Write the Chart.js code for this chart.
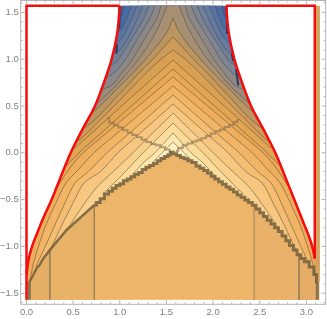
<!DOCTYPE html>
<html>
<head>
<meta charset="utf-8">
<style>html,body{margin:0;padding:0;background:#fff}canvas{display:block}</style>
<script src="https://cdn.jsdelivr.net/npm/chart.js@4/dist/chart.umd.min.js"></script>
</head>
<body>
<canvas id="c" width="327" height="319"></canvas>
<script>
const FIELD_TOP = 1.571, FIELD_BOTTOM = -1.571;

// red outline of the domain, left and right of the gap
const redLeftX = [0, 0, 0.02, 0.06, 0.11, 0.17, 0.27, 0.37, 0.474, 0.6, 0.734, 0.83, 0.913, 0.973, 1.0];
const redLeftY = [-1.571, -1.3, -1.15, -1.0, -0.87, -0.72, -0.5, -0.25, 0, 0.25, 0.5, 0.75, 1.0, 1.28, 1.571];
const redRightX = [2.14, 2.168, 2.228, 2.31, 2.407, 2.54, 2.667, 2.77, 2.87, 2.97, 3.03, 3.07, 3.09];
const redRightY = [1.571, 1.28, 1.0, 0.75, 0.5, 0.25, 0, -0.25, -0.5, -0.75, -0.9, -1.03, -1.13];

// contour arms, outermost first: y values top to bottom, x on the left and right arm
const armY = [
  [1.571, 1.472, 1.44],
  [1.571, 1.44, 1.333, 1.291],
  [1.571, 1.419, 1.259, 1.184, 1.162],
  [1.571, 1.419, 1.248, 1.098, 1.056],
  [1.571, 1.44, 1.291, 1.141, 0.991, 0.927],
  [1.571, 1.44, 1.312, 1.152, 0.991, 0.863, 0.799],
  [1.571, 1.44, 1.312, 1.152, 0.991, 0.853, 0.724, 0.671],
  [1.571, 1.462, 1.333, 1.162, 0.991, 0.863, 0.714, 0.596, 0.521],
  [1.44, 1.312, 1.184, 0.991, 0.853, 0.714, 0.564, 0.415],
  [1.237, 1.098, 0.991, 0.853, 0.692, 0.532, 0.372, 0.265],
  [1.098, 0.991, 0.84, 0.675, 0.52, 0.36, 0.2, 0.126],
  [0.991, 0.866, 0.722, 0.531, 0.368, 0.195, 0.051],
  [0.895, 0.771, 0.647, 0.504, 0.352, 0.2, 0.009, -0.141],
  [0.81, 0.693, 0.513, 0.369, 0.206, 0, -0.162, -0.355],
  [0.714, 0.596, 0.479, 0.325, 0.162, 0, -0.184, -0.323, -0.558, -0.771, -0.985, -1.199, -1.38],
  [0.618, 0.496, 0.355, 0.168, 0, -0.205, -0.323, -0.558, -0.771, -0.985, -1.167, -1.22],
  [0.521, 0.397, 0.255, 0.133, 0, -0.205, -0.323, -0.558, -0.771, -0.932, -1.038],
  [0.425, 0.287, 0.13, 0, -0.184, -0.365, -0.611, -0.825],
  [0.318, 0.18, 0, -0.205, -0.44],
  [0.212, 0, -0.109, -0.269],
  [0.115, 0, -0.109],
];
const armLeftX = [
  [1.045, 1.024, 1.002],
  [1.12, 1.077, 1.024, 0.981],
  [1.184, 1.12, 1.045, 0.981, 0.959],
  [1.249, 1.184, 1.099, 1.002, 0.927],
  [1.313, 1.259, 1.174, 1.077, 0.981, 0.895],
  [1.377, 1.324, 1.249, 1.152, 1.056, 0.949, 0.852],
  [1.442, 1.399, 1.324, 1.227, 1.131, 1.024, 0.916, 0.798],
  [1.506, 1.463, 1.409, 1.313, 1.195, 1.088, 0.959, 0.831, 0.745],
  [1.571, 1.517, 1.431, 1.27, 1.141, 1.002, 0.852, 0.691],
  [1.571, 1.442, 1.345, 1.206, 1.056, 0.906, 0.756, 0.627],
  [1.571, 1.431, 1.27, 1.109, 0.959, 0.798, 0.638, 0.552],
  [1.571, 1.431, 1.27, 1.056, 0.874, 0.681, 0.52],
  [1.571, 1.431, 1.292, 1.131, 0.959, 0.788, 0.573, 0.423],
  [1.571, 1.431, 1.217, 1.045, 0.852, 0.606, 0.466, 0.338],
  [1.571, 1.431, 1.292, 1.109, 0.916, 0.723, 0.552, 0.423, 0.305, 0.209, 0.134, 0.07, 0.038],
  [1.571, 1.431, 1.27, 1.056, 0.863, 0.659, 0.52, 0.402, 0.305, 0.209, 0.123, 0.1],
  [1.571, 1.431, 1.27, 1.131, 0.981, 0.788, 0.616, 0.488, 0.38, 0.305, 0.252],
  [1.571, 1.431, 1.27, 1.141, 0.949, 0.756, 0.573, 0.434],
  [1.571, 1.431, 1.249, 1.056, 0.82],
  [1.571, 1.377, 1.249, 1.109],
  [1.571, 1.452, 1.345],
];
const armRightX = [
  [2.097, 2.118, 2.14],
  [2.022, 2.065, 2.118, 2.161],
  [1.958, 2.022, 2.097, 2.161, 2.183],
  [1.893, 1.958, 2.043, 2.14, 2.215],
  [1.829, 1.883, 1.968, 2.065, 2.161, 2.247],
  [1.765, 1.818, 1.893, 1.99, 2.086, 2.193, 2.29],
  [1.7, 1.743, 1.818, 1.915, 2.011, 2.118, 2.226, 2.344],
  [1.636, 1.679, 1.733, 1.829, 1.947, 2.054, 2.183, 2.311, 2.397],
  [1.571, 1.625, 1.711, 1.872, 2.001, 2.14, 2.29, 2.451],
  [1.571, 1.7, 1.797, 1.936, 2.086, 2.236, 2.386, 2.515],
  [1.571, 1.711, 1.872, 2.033, 2.183, 2.344, 2.504, 2.59],
  [1.571, 1.711, 1.872, 2.086, 2.268, 2.461, 2.622],
  [1.571, 1.711, 1.85, 2.011, 2.183, 2.354, 2.569, 2.719],
  [1.571, 1.711, 1.925, 2.097, 2.29, 2.536, 2.676, 2.804],
  [1.571, 1.711, 1.85, 2.033, 2.226, 2.419, 2.59, 2.719, 2.837, 2.933, 3.008, 3.072, 3.104],
  [1.571, 1.711, 1.872, 2.086, 2.279, 2.483, 2.622, 2.74, 2.837, 2.933, 3.019, 3.042],
  [1.571, 1.711, 1.872, 2.011, 2.161, 2.354, 2.526, 2.654, 2.762, 2.837, 2.89],
  [1.571, 1.711, 1.872, 2.001, 2.193, 2.386, 2.569, 2.708],
  [1.571, 1.711, 1.893, 2.086, 2.322],
  [1.571, 1.765, 1.893, 2.033],
  [1.571, 1.69, 1.797],
];
// the first arms run into the red curve, the rest stop on the lower ridge
const armsEndingOnRed = 14;
// first colour is the band next to the red outline, then one per contour going in
const bandColours = ['#3d62a4', '#4a6ca6', '#5874a2', '#647a9f', '#6f7f9b', '#7d8493', '#8b8887', '#998c7c',
  '#a68f72', '#bb955f', '#cc9b58', '#d9a054', '#e2a553', '#e9a856', '#eeae5e', '#f2b566',
  '#f5bd71', '#f8c77f', '#fad18c', '#fcdc9b', '#fee7ad', '#fff1c2'];

// lower ridge
const arcX = [0.03, 0.06, 0.11, 0.14, 0.18, 0.25, 0.43, 0.58, 0.727, 0.77, 0.81, 0.86, 0.9, 0.94, 0.98, 1.02, 1.06, 1.1, 1.14, 1.18, 1.22, 1.26, 1.3, 1.34, 1.38, 1.42, 1.46, 1.5, 1.53, 1.557,
  1.59, 1.63, 1.67, 1.71, 1.75, 1.795, 1.84, 1.88, 1.92, 1.96, 2.0, 2.04, 2.08, 2.12, 2.16, 2.2, 2.24, 2.28, 2.32, 2.36, 2.4, 2.44,
  2.48, 2.52, 2.56, 2.6, 2.64, 2.68, 2.72, 2.76, 2.8, 2.84, 2.88, 2.92, 2.96, 3.0, 3.06, 3.1, 3.117];
const arcY = [-1.38, -1.33, -1.23, -1.2, -1.13, -1.04, -0.825, -0.69, -0.558, -0.53, -0.49, -0.44, -0.41, -0.38, -0.35, -0.33, -0.3, -0.28, -0.255, -0.23, -0.21, -0.18, -0.155, -0.135, -0.115, -0.085, -0.06, -0.04, -0.02, 0.005,
  -0.01, -0.03, -0.05, -0.065, -0.085, -0.105, -0.14, -0.165, -0.19, -0.215, -0.25, -0.28, -0.31, -0.335, -0.365, -0.39, -0.42, -0.45, -0.475, -0.505, -0.53, -0.56,
  -0.6, -0.64, -0.68, -0.72, -0.76, -0.8, -0.84, -0.89, -0.94, -0.99, -1.04, -1.09, -1.13, -1.165, -1.22, -1.3, -1.38];
// upper ridge branches
const kinkLeftX = [0.86, 0.913, 0.96, 1.01, 1.06, 1.11, 1.16, 1.21, 1.26, 1.31, 1.36, 1.41, 1.46, 1.51, 1.557];
const kinkLeftY = [0.37, 0.32, 0.295, 0.27, 0.24, 0.215, 0.19, 0.165, 0.14, 0.115, 0.095, 0.08, 0.06, 0.035, 0.01];
const kinkRightX = [1.6, 1.65, 1.7, 1.75, 1.8, 1.85, 1.9, 1.95, 2.0, 2.05, 2.1, 2.15, 2.2, 2.24, 2.277];
const kinkRightY = [0.02, 0.05, 0.08, 0.1, 0.12, 0.135, 0.155, 0.18, 0.205, 0.23, 0.25, 0.275, 0.3, 0.325, 0.35];
// dark pieces just inside the red curve near the top
const edgeX = [1.0, 0.995, null, 0.97, 0.965, null, 2.145, 2.15, null, 2.2, 2.215, null, 2.245, 2.27];
const edgeY = [1.56, 1.33, null, 1.16, 1.06, null, 1.56, 1.27, null, 1.06, 0.98, null, 0.9, 0.72];
// flat area under the ridge and the vertical lines in it
const flatFromX = [0, 0, 0, 2.44, 2.92];
const flatToX = [3.14, 0.727, 0.25, 3.14, 3.14];
const flatColours = ['#edb569', '#e9b269', '#e5ae66', '#e9b16a', '#e4ac67'];
const stemX = [0.03, 0.25, 0.727, 2.44, 2.92, 3.117];
const stemTop = [-1.38, -1.04, -0.558, -0.56, -1.09, -1.38];
const stemWidth = [3, 1, 1, 2, 1, 3];
const stemColour = ['#8a744f', '#9c8155', '#9c8155', '#c29c60', '#9c8155', '#8a744f'];
const stripX = [3.118, 3.118];
const stripY = [FIELD_TOP, -1.38];

const toPts = (xs, ys) => xs.map((x, i) => ({ x: x, y: ys[i] }));
const redLeftPts = toPts(redLeftX, redLeftY);
const redRightPts = toPts(redRightX, redRightY);
const arcPts = toPts(arcX, arcY);

function fillSet(pts, colour) {
  return { data: pts, showLine: true, pointRadius: 0, borderWidth: 0, borderColor: 'transparent',
    backgroundColor: colour, fill: { value: FIELD_BOTTOM }, tension: 0 };
}
function lineSet(pts, colour, width, extra) {
  return Object.assign({ data: pts, showLine: true, pointRadius: 0, borderWidth: width, borderColor: colour,
    fill: false, tension: 0 }, extra || {});
}

const layers = [];
// bands, painted from the outside in
layers.push(fillSet(redLeftPts.concat(redRightPts), bandColours[0]));
armY.forEach((ys, i) => {
  const left = toPts(armLeftX[i], ys).reverse();
  const right = toPts(armRightX[i], ys);
  let pts = left.concat(right);
  if (i < armsEndingOnRed) {
    pts = redLeftPts.filter(p => p.y < left[0].y)
      .concat(pts, redRightPts.filter(p => p.y < right[right.length - 1].y));
  }
  layers.push(fillSet(pts, bandColours[i + 1]));
});
flatColours.forEach((col, i) => {
  const pts = [{ x: flatFromX[i], y: FIELD_BOTTOM + 1e-6 }]
    .concat(arcPts.filter(p => p.x >= flatFromX[i] && p.x <= flatToX[i]));
  if (flatToX[i] > 3.1) pts.push({ x: 3.14, y: -1.38 });
  layers.push(fillSet(pts, col));
});
layers.push(lineSet(toPts(stripX, stripY), '#d6a25f', 5));
// contour lines
armY.forEach((ys, i) => {
  layers.push(lineSet(toPts(armLeftX[i], ys), 'rgba(75,70,55,0.5)', 1, { tension: 0.3 }));
  layers.push(lineSet(toPts(armRightX[i], ys), 'rgba(75,70,55,0.5)', 1, { tension: 0.3 }));
});
stemX.forEach((x, i) => {
  layers.push(lineSet([{ x: x, y: stemTop[i] }, { x: x, y: FIELD_BOTTOM }], stemColour[i], stemWidth[i]));
});
layers.push(lineSet(toPts(kinkLeftX, kinkLeftY), 'rgba(140,115,75,0.65)', 2, { stepped: 'middle' }));
layers.push(lineSet(toPts(kinkRightX, kinkRightY), 'rgba(140,115,75,0.65)', 2, { stepped: 'middle' }));
layers.push(lineSet(arcPts.filter(p => p.x <= 0.727), 'rgba(115,95,60,0.85)', 2.5));
layers.push(lineSet(arcPts.filter(p => p.x >= 0.727), 'rgba(115,95,60,0.85)', 3, { stepped: 'middle' }));
layers.push(lineSet(toPts(edgeX, edgeY), '#2b3a5c', 2));
// red outline: straight box sides, then the curve on its own so it can be smoothed
layers.push(lineSet([{ x: 0, y: FIELD_BOTTOM }, { x: 0, y: FIELD_TOP }, { x: 1.0, y: FIELD_TOP }], '#f50d0d', 2.5));
layers.push(lineSet(redLeftPts.slice(1), '#f50d0d', 2.5, { tension: 0.35 }));
layers.push(lineSet([{ x: 2.14, y: FIELD_TOP }, { x: 3.09, y: FIELD_TOP }, redRightPts[redRightPts.length - 1]], '#f50d0d', 2.5));
layers.push(lineSet(redRightPts, '#f50d0d', 2.5, { tension: 0.35 }));

const frameTicks = {
  id: 'frameTicks',
  afterDraw(chart) {
    const { ctx, chartArea: a, scales } = chart;
    ctx.save();
    ctx.strokeStyle = '#b4b4b4';
    ctx.lineWidth = 1;
    ctx.strokeRect(a.left, a.top, a.right - a.left, a.bottom - a.top);
    const isMajor = v => Math.abs(v * 2 - Math.round(v * 2)) < 1e-6;
    ctx.beginPath();
    scales.x.ticks.forEach(t => {
      const px = scales.x.getPixelForValue(t.value), len = isMajor(t.value) ? 4 : 2;
      ctx.moveTo(px, a.bottom); ctx.lineTo(px, a.bottom - len);
      ctx.moveTo(px, a.top); ctx.lineTo(px, a.top + len);
    });
    scales.y.ticks.forEach(t => {
      const py = scales.y.getPixelForValue(t.value), len = isMajor(t.value) ? 4 : 2;
      ctx.moveTo(a.left, py); ctx.lineTo(a.left + len, py);
      ctx.moveTo(a.right, py); ctx.lineTo(a.right - len, py);
    });
    ctx.stroke();
    ctx.restore();
  },
};

const tickLabel = v => {
  if (Math.abs(v * 2 - Math.round(v * 2)) > 1e-6) return '';
  return (Math.abs(v) < 1e-6 ? 0 : v).toFixed(1).replace('-', '\u2212');
};
const axisTicks = {
  stepSize: 0.1, includeBounds: false, autoSkip: false, maxRotation: 0, color: '#808080',
  font: { family: "'Liberation Sans', sans-serif", size: 9.5 }, padding: 2, callback: tickLabel,
};
const noPadding = s => { s.paddingLeft = 0; s.paddingRight = 0; s.paddingTop = 0; s.paddingBottom = 0; };

new Chart(document.getElementById('c'), {
  type: 'scatter',
  data: { datasets: layers.reverse() },
  plugins: [frameTicks],
  options: {
    responsive: false,
    animation: false,
    events: [],
    layout: { padding: { top: 0.5, right: 1.3, left: 0, bottom: 0 } },
    plugins: { legend: { display: false }, tooltip: { enabled: false } },
    scales: {
      x: {
        type: 'linear', min: -0.062, max: 3.207,
        grid: { display: false, drawTicks: false }, border: { display: false },
        ticks: axisTicks,
        afterFit(s) { s.height = 14.7; noPadding(s); },
      },
      y: {
        type: 'linear', min: -1.619, max: 1.627,
        grid: { display: false, drawTicks: false }, border: { display: false },
        ticks: axisTicks,
        afterFit(s) { s.width = 20.7; noPadding(s); },
      },
    },
  },
});
</script>
</body>
</html>
